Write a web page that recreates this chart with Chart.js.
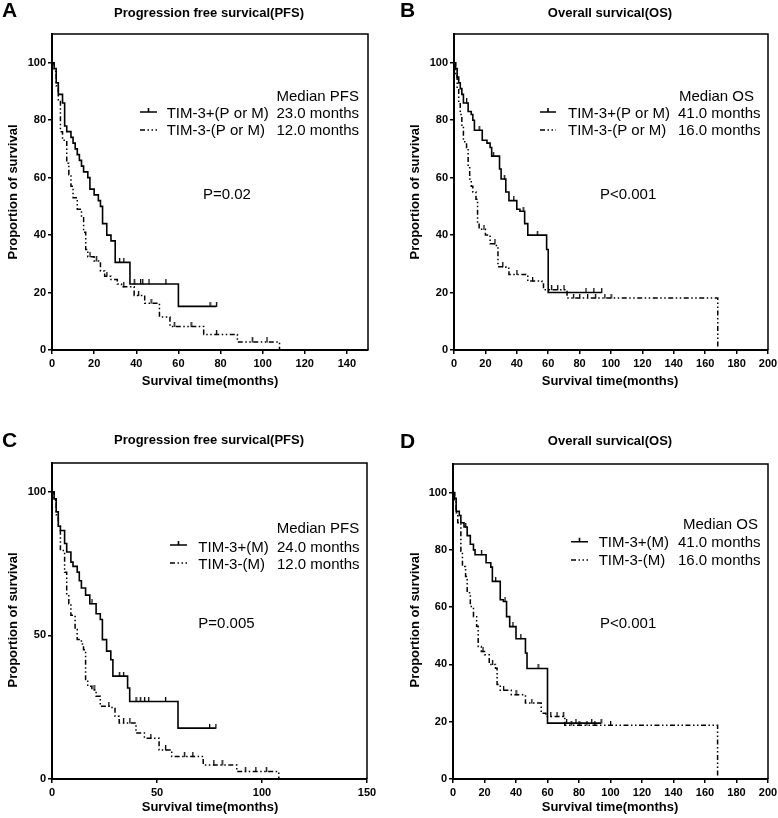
<!DOCTYPE html>
<html>
<head>
<meta charset="utf-8">
<script src="https://cdn.jsdelivr.net/npm/chart.js@4.4.0/dist/chart.umd.min.js"></script>
<style>
  html, body { margin: 0; padding: 0; background: #fff; }
  #wrap { position: relative; width: 778px; height: 818px; }
  canvas { position: absolute; }
</style>
</head>
<body>
<div id="wrap">
  <canvas id="chartA" width="389" height="400" style="left:0;top:0"></canvas>
  <canvas id="chartB" width="389" height="400" style="left:389px;top:0"></canvas>
  <canvas id="chartC" width="389" height="418" style="left:0;top:400px"></canvas>
  <canvas id="chartD" width="389" height="418" style="left:389px;top:400px"></canvas>
</div>
<script>
// ---- tick labels ----
const yTicks20 = [0, 20, 40, 60, 80, 100];
const yTicks50 = [0, 50, 100];
const xTicks140 = [0, 20, 40, 60, 80, 100, 120, 140];
const xTicks200 = [0, 20, 40, 60, 80, 100, 120, 140, 160, 180, 200];
const xTicks150 = [0, 50, 100, 150];

// ---- A: PFS, TIM-3 (P or M) ----
const aPosTime = [0, 1, 2, 3, 5, 6, 7, 9, 10, 11, 12, 13, 14, 15, 17, 18, 20, 22, 23, 24, 26, 28, 30, 37, 60, 78];
const aPosSurv = [100, 98, 93, 89, 86, 78, 76, 74, 72, 70, 68, 66, 64, 62, 60, 56, 54, 52, 50, 44, 40, 38, 30.5, 23, 15.2, 15.2];
const aPosCens = [32, 34, 39, 42, 43, 46, 54, 75, 78];
const aNegTime = [0, 1, 2, 3, 4, 5, 7, 8, 9, 10, 12, 14, 15, 16, 17, 20, 23, 25, 28, 31, 33, 39, 44, 51, 56, 72, 88, 108];
const aNegSurv = [100, 97, 92, 87, 76, 73, 65, 61, 57, 53, 49, 46, 41, 35, 32.5, 31, 27.5, 25.7, 24.5, 23, 22, 19, 16.3, 11.5, 8.2, 5.4, 2.8, 0];
const aNegCens = [18, 21, 26, 34, 41, 47, 58, 66, 78, 95, 102];

// ---- B: OS, TIM-3 (P or M) ----
const bPosTime = [0, 1, 2, 3, 4, 5, 6, 9, 11, 12, 13, 18, 21, 23, 24, 29, 30, 33, 35, 40, 42, 45, 47, 59, 60, 94];
const bPosSurv = [100, 98, 95, 93, 91, 89, 86, 83, 82, 80, 76.5, 73, 72, 70.5, 67.5, 63, 59.5, 55, 52, 49, 48.3, 44, 40, 35, 20, 20];
const bPosCens = [8, 16, 25, 32, 38, 44, 53, 84, 89, 94];
const bNegTime = [0, 1, 2, 3, 4, 5, 6, 8, 9, 10, 11, 12, 14, 15, 16, 20, 23, 27, 28, 33, 35, 47, 56, 57, 72, 168];
const bNegSurv = [100, 96, 91, 86, 82, 78, 72.5, 70, 64, 59.5, 57, 55, 52.5, 44, 42, 40, 37, 36, 29, 28.5, 26.3, 24, 23.5, 21, 18.1, 0];
const bNegCens = [19, 26, 31, 40, 50, 62, 66, 70, 76, 80, 85, 90, 96, 100];

// ---- C: PFS, TIM-3 (M) ----
const cPosTime = [0, 1, 2, 3, 4, 6, 7, 9, 10, 12, 13, 14, 16, 18, 21, 23, 24, 26, 28, 29, 36, 37, 60, 78];
const cPosSurv = [100, 97.5, 93, 88, 86.5, 82, 79, 75.5, 74, 72, 69, 66.5, 64, 61, 57.5, 55.5, 48.5, 44.5, 41.5, 35.8, 31.7, 27, 17.7, 17.7];
const cPosCens = [19, 32, 34, 40, 42, 44, 46, 54, 75, 78];
const cNegTime = [0, 1, 2, 3, 4, 6, 7, 8, 9, 11, 12, 14, 15, 16, 17, 19, 21, 23, 28, 30, 32, 40, 44, 51, 57, 72, 88, 108];
const cNegSurv = [100, 97, 92, 88, 79.5, 72, 64.5, 61, 57, 52, 48.6, 47, 45, 34.6, 32.3, 31, 28.8, 25.3, 24.9, 21.8, 19.5, 16, 14.2, 10.1, 7.8, 4.9, 2.6, 0];
const cNegCens = [20, 27, 34, 37, 47, 54, 63, 67, 77, 81, 92, 97, 102];

// ---- D: OS, TIM-3 (M) ----
const dPosTime = [0, 1, 2, 4, 5, 7, 9, 11, 13, 14, 21, 24, 25, 30, 32, 34, 36, 40, 46, 47, 60, 94];
const dPosSurv = [100, 98, 93.5, 92, 89.5, 88, 85, 82, 80, 78.3, 75.5, 74, 69, 62.6, 62, 56.7, 53.2, 49, 44, 38.6, 19.5, 19.5];
const dPosCens = [8, 18, 27, 33, 38, 43, 54, 72, 78, 88, 94];
const dNegTime = [0, 1, 2, 3, 5, 6, 8, 9, 11, 13, 15, 16, 18, 20, 23, 27, 28, 30, 37, 46, 56, 59, 71, 168];
const dNegSurv = [100, 97.5, 93, 89.5, 79.5, 74.2, 70.7, 65, 60.2, 56.7, 53.3, 46.3, 44.5, 43.4, 40, 38.7, 33, 31, 29.4, 26.5, 23, 21.8, 18.8, 0];
const dNegCens = [19, 25, 32, 40, 50, 62, 66, 70, 75, 80, 85, 90, 100];

// ---- texts ----
const seriesPM = ['TIM-3+(P or M)', 'TIM-3-(P or M)'];
const seriesM = ['TIM-3+(M)', 'TIM-3-(M)'];
const mediansA = ['23.0 months', '12.0 months'];
const mediansB = ['41.0 months', '16.0 months'];
const mediansC = ['24.0 months', '12.0 months'];
const mediansD = ['41.0 months', '16.0 months'];
const pValues = ['P=0.02', 'P<0.001', 'P=0.005', 'P<0.001'];

const FONT = '"Liberation Sans", Arial, Helvetica, sans-serif';
const DASH = [5, 2.5, 1.5, 2.5, 1.5, 2.5];

// small upward tick used as censor marker
const censorMark = document.createElement('canvas');
censorMark.width = 3;
censorMark.height = 9;
(function () {
  const c = censorMark.getContext('2d');
  c.fillStyle = '#000';
  c.fillRect(1, 0, 1.3, 5);
})();

// value of a step curve at time t (to put censor ticks on the curve)
function survAt(times, surv, t) {
  let v = surv[0];
  for (let i = 0; i < times.length; i++) {
    if (times[i] <= t) v = surv[i];
  }
  return v;
}

function kmSets(times, surv, cens, dashed) {
  return [
    {
      data: times.map((t, i) => ({ x: t, y: surv[i] })),
      stepped: 'before',
      borderColor: '#000',
      borderWidth: dashed ? 1.5 : 1.6,
      borderDash: dashed ? DASH : [],
      pointRadius: 0,
      fill: false
    },
    {
      data: cens.map(t => ({ x: t, y: survAt(times, surv, t) })),
      showLine: false,
      pointStyle: censorMark,
      pointRadius: 4
    }
  ];
}

// draws box, titles, legend and p value (page coords, shifted by canvas offset)
function makeDecor(L) {
  return {
    id: 'decor' + L.letter,
    afterDatasetsDraw(chart) {
      const { left, top, right, bottom } = chart.chartArea;
      const ctx = chart.ctx;
      ctx.save();
      ctx.strokeStyle = '#000';
      ctx.lineWidth = 1.5;
      ctx.beginPath();
      ctx.moveTo(left, top);
      ctx.lineTo(right, top);
      ctx.lineTo(right, bottom);
      ctx.stroke();
      ctx.restore();
    },
    afterDraw(chart) {
      const ctx = chart.ctx;
      ctx.save();
      ctx.translate(-L.left, -L.top);
      ctx.fillStyle = '#000';
      ctx.textBaseline = 'alphabetic';

      ctx.font = 'bold 21px ' + FONT;
      ctx.textAlign = 'left';
      ctx.fillText(L.letter, L.letterPos[0], L.letterPos[1]);

      ctx.font = 'bold 13px ' + FONT;
      ctx.textAlign = 'center';
      ctx.fillText(L.title, L.titlePos[0], L.titlePos[1]);
      ctx.fillText('Survival time(months)', L.xTitlePos[0], L.xTitlePos[1]);
      ctx.save();
      ctx.translate(L.yTitlePos[0], L.yTitlePos[1]);
      ctx.rotate(-Math.PI / 2);
      ctx.textBaseline = 'middle';
      ctx.fillText('Proportion of survival', 0, 0);
      ctx.restore();

      // legend
      ctx.font = '15px ' + FONT;
      ctx.textAlign = 'left';
      ctx.fillText(L.header, L.headerX, L.rows[0]);
      for (let i = 0; i < 2; i++) {
        ctx.fillText(L.names[i], L.nameX, L.rows[i + 1]);
        ctx.fillText(L.medians[i], L.numX, L.rows[i + 1]);
      }
      ctx.strokeStyle = '#000';
      ctx.beginPath();
      ctx.lineWidth = 1.6;
      ctx.moveTo(L.sample[0], L.sampleY[0]);
      ctx.lineTo(L.sample[1], L.sampleY[0]);
      const mid = (L.sample[0] + L.sample[1]) / 2;
      ctx.moveTo(mid, L.sampleY[0] - 4);
      ctx.lineTo(mid, L.sampleY[0]);
      ctx.stroke();
      ctx.beginPath();
      ctx.lineWidth = 1.5;
      ctx.setLineDash(DASH);
      ctx.moveTo(L.sample[0], L.sampleY[1]);
      ctx.lineTo(L.sample[1], L.sampleY[1]);
      ctx.stroke();
      ctx.setLineDash([]);

      ctx.fillText(L.p, L.pPos[0], L.pPos[1]);
      ctx.restore();
    }
  };
}

function makeChart(L) {
  const area = L.area;
  const yW = area[0] - L.left;
  const padTop = area[1] - L.top;
  const padRight = L.left + L.w - area[2];
  const xH = L.top + L.h - area[3];
  const tickFont = { family: FONT, size: 11, weight: 'bold' };
  const grid = { drawOnChartArea: false, drawTicks: true, tickLength: 4, color: '#000', lineWidth: 1.5 };
  const border = { display: true, color: '#000', width: 2 };

  new Chart(document.getElementById(L.canvas), {
    type: 'line',
    data: {
      datasets: [
        ...kmSets(L.pos[0], L.pos[1], L.pos[2], false),
        ...kmSets(L.neg[0], L.neg[1], L.neg[2], true)
      ]
    },
    options: {
      responsive: false,
      animation: false,
      events: [],
      layout: { padding: { left: 0, top: padTop, right: padRight, bottom: 0 } },
      plugins: { legend: { display: false }, tooltip: { enabled: false } },
      scales: {
        x: {
          type: 'linear', min: 0, max: L.xMax,
          afterBuildTicks: s => { s.ticks = L.xTicks.map(v => ({ value: v })); },
          afterFit: s => { s.height = xH; s.paddingLeft = 0; s.paddingRight = 0; },
          ticks: { color: '#000', font: tickFont, padding: 3, maxRotation: 0, autoSkip: false },
          grid: grid,
          border: border
        },
        y: {
          type: 'linear', min: 0, max: 110,
          afterBuildTicks: s => { s.ticks = L.yTicks.map(v => ({ value: v })); },
          afterFit: s => { s.width = yW; s.paddingTop = 0; s.paddingBottom = 0; },
          ticks: { color: '#000', font: tickFont, padding: 2, autoSkip: false },
          grid: grid,
          border: border
        }
      }
    },
    plugins: [makeDecor(L)]
  });
}

makeChart({
  canvas: 'chartA', letter: 'A', title: 'Progression free survical(PFS)',
  left: 0, top: 0, w: 389, h: 400, area: [52, 34, 368, 350],
  xMax: 150, xTicks: xTicks140, yTicks: yTicks20,
  pos: [aPosTime, aPosSurv, aPosCens], neg: [aNegTime, aNegSurv, aNegCens],
  letterPos: [2, 17], titlePos: [209, 16.5], xTitlePos: [210, 384.5], yTitlePos: [13, 192],
  header: 'Median PFS', headerX: 276.5, names: seriesPM, medians: mediansA,
  nameX: 166.7, numX: 276.5, rows: [100.5, 117.5, 134.5],
  sample: [140, 157], sampleY: [112, 130], p: pValues[0], pPos: [203, 199]
});

makeChart({
  canvas: 'chartB', letter: 'B', title: 'Overall survical(OS)',
  left: 389, top: 0, w: 389, h: 400, area: [454, 34, 768, 350],
  xMax: 200, xTicks: xTicks200, yTicks: yTicks20,
  pos: [bPosTime, bPosSurv, bPosCens], neg: [bNegTime, bNegSurv, bNegCens],
  letterPos: [400, 17], titlePos: [610, 16.5], xTitlePos: [610, 384.5], yTitlePos: [415, 192],
  header: 'Median OS', headerX: 679, names: seriesPM, medians: mediansB,
  nameX: 568, numX: 678, rows: [100.5, 117.5, 134.5],
  sample: [540, 556], sampleY: [112, 130], p: pValues[1], pPos: [600, 199]
});

makeChart({
  canvas: 'chartC', letter: 'C', title: 'Progression free survical(PFS)',
  left: 0, top: 400, w: 389, h: 418, area: [52, 463, 367, 779],
  xMax: 150, xTicks: xTicks150, yTicks: yTicks50,
  pos: [cPosTime, cPosSurv, cPosCens], neg: [cNegTime, cNegSurv, cNegCens],
  letterPos: [2, 447], titlePos: [209, 444], xTitlePos: [210, 811], yTitlePos: [13, 620],
  header: 'Median PFS', headerX: 276.7, names: seriesM, medians: mediansC,
  nameX: 198.3, numX: 277, rows: [533.3, 551.5, 568.5],
  sample: [170, 187], sampleY: [545, 563], p: pValues[2], pPos: [198.3, 627.7]
});

makeChart({
  canvas: 'chartD', letter: 'D', title: 'Overall survical(OS)',
  left: 389, top: 400, w: 389, h: 418, area: [453, 464, 768, 779],
  xMax: 200, xTicks: xTicks200, yTicks: yTicks20,
  pos: [dPosTime, dPosSurv, dPosCens], neg: [dNegTime, dNegSurv, dNegCens],
  letterPos: [400, 448], titlePos: [610, 445], xTitlePos: [610, 811], yTitlePos: [415, 620],
  header: 'Median OS', headerX: 683, names: seriesM, medians: mediansD,
  nameX: 598.7, numX: 678, rows: [529.3, 547, 564.5],
  sample: [571, 588], sampleY: [541.7, 560], p: pValues[3], pPos: [600, 627.7]
});
</script>
</body>
</html>
